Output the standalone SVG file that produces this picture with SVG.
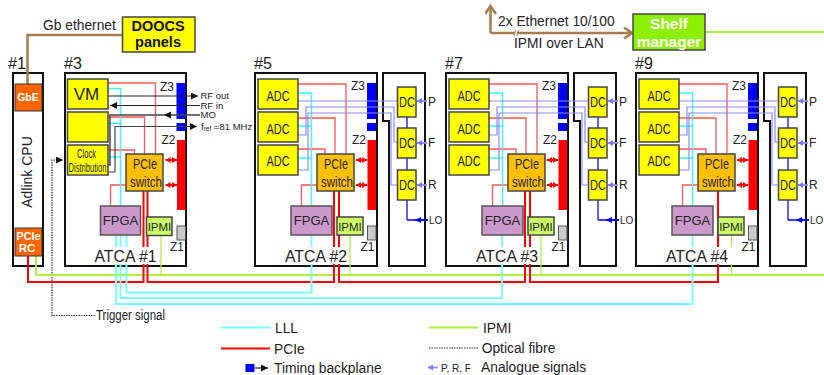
<svg xmlns="http://www.w3.org/2000/svg" xmlns:xlink="http://www.w3.org/1999/xlink" width="824" height="375" viewBox="0 0 824 375">
<style>
text{font-family:"Liberation Sans",Arial,sans-serif;fill:#222}
.m{text-anchor:middle}
.frame{fill:#fff;stroke:#111;stroke-width:2}
.y{fill:#ff0;stroke:#444;stroke-width:1.5}
.sw{fill:#ffc000;stroke:#444;stroke-width:1.5}
.fp{fill:#cc99cc;stroke:#555;stroke-width:1.5}
.ip{fill:#ccff66;stroke:#444;stroke-width:1.5}
.or{fill:#ff6600;stroke:#333;stroke-width:1}
.z1{fill:#ccc;stroke:#555;stroke-width:1}
.l{fill:none}
.red{stroke:#f00;stroke-width:2}
.r1{stroke:#f55;stroke-width:1.3}
.cy{stroke:#7ff;stroke-width:2}
.c1{stroke:#3ff;stroke-width:1.3}
.gr{stroke:#aef03c;stroke-width:2}
.g1{stroke:#aef03c;stroke-width:1.3}
.la{stroke:#8a8aff;stroke-width:1.2}
.br{stroke:#a87c4f;stroke-width:2.5}
.bk{stroke:#222;stroke-width:1.2}
.tg{stroke:#333;stroke-width:1.2;stroke-dasharray:1.5 1}
.lb{stroke:#2a2aee;stroke-width:1.5}
.wh{fill:#fff}
.t{font-size:13.8px}
.z{font-size:12px}
.adc{font-size:15.5px}
.pc{font-size:15px}
.dc{font-size:15px}
.fg{font-size:13px}
.ipm{font-size:11.5px}
.at{font-size:15.8px}
.h{font-size:16px}
.prf{font-size:12px}
.lo{font-size:10px}
.rf{font-size:9.5px}
</style>
<defs>
<marker id="aBk" markerUnits="userSpaceOnUse" markerWidth="8" markerHeight="7" refX="7" refY="3.5" orient="auto"><path d="M0 0L7 3.500L0 7z" fill="#111"/></marker>
<marker id="aBr" markerUnits="userSpaceOnUse" markerWidth="11" markerHeight="13" refX="9" refY="6" orient="auto"><path d="M1 0.500L9 6L1 11.500" fill="none" stroke="#a87c4f" stroke-width="2.500"/></marker>
<marker id="aRe" markerUnits="userSpaceOnUse" markerWidth="6" markerHeight="7" refX="5" refY="3" orient="auto-start-reverse"><path d="M0 0L5 3L0 6z" fill="#f00"/></marker>
<marker id="aLa" markerUnits="userSpaceOnUse" markerWidth="6" markerHeight="6" refX="5" refY="3" orient="auto"><path d="M0 0L5 3L0 6z" fill="#7777ff"/></marker>
<marker id="aBl" markerUnits="userSpaceOnUse" markerWidth="7" markerHeight="6" refX="6" refY="3" orient="auto"><path d="M0 0L6 3L0 6z" fill="#00f"/></marker>
<g id="adcWires">
<path class="l r1" d="M298 84H346V154M298 118H335V154M298 149H325V154M317 185H301.500V206"/>
<path class="l c1" d="M298 93H311.500V206M298 126H311.500M298 158H311.500"/>
<path class="l la" d="M298 101H397M298 135H306V107H394V142H397M298 170H308V113H391V185H397"/>
<path class="l lb" d="M407 117V220"/>
<path class="l" stroke="#00f" stroke-width="1.500" d="M428 220H407"/>
<path class="l" stroke="#00f" stroke-width="1.500" d="M428 220H415" marker-end="url(#aBl)"/>
<path class="l" stroke="#8a8aff" stroke-width="1.800" marker-end="url(#aLa)" d="M427 101H417"/>
<path class="l" stroke="#8a8aff" stroke-width="1.800" marker-end="url(#aLa)" d="M427 143H417"/>
<path class="l" stroke="#8a8aff" stroke-width="1.800" marker-end="url(#aLa)" d="M427 185H417"/>
<path class="l red" marker-start="url(#aRe)" marker-end="url(#aRe)" d="M356 160H367"/>
<path class="l red" marker-start="url(#aRe)" marker-end="url(#aRe)" d="M356 185H367"/>
</g>
</defs>
<rect width="824" height="375" fill="#fff"/>

<g id="frames">
<rect id="cpu-frame" class="frame" x="13" y="73" width="30" height="193"/>
<rect id="card3-frame" class="frame" x="65" y="73" width="121" height="193"/>
<rect id="card5-frame" class="frame" x="255" y="73" width="122" height="193"/>
<rect id="card7-frame" class="frame" x="446" y="73" width="122" height="193"/>
<rect id="card9-frame" class="frame" x="636" y="73" width="122" height="193"/>
<path id="rtm5-frame" class="frame" d="M383 73H425V266H389V121H383Z"/>
<path id="rtm7-frame" class="frame" d="M574 73H616V266H580V121H574Z"/>
<path id="rtm9-frame" class="frame" d="M764 73H806V266H770V121H764Z"/>
</g>

<g id="backplane-zones">
<g id="zones3" transform="translate(-190.500 0)"><rect x="367" y="83" width="9" height="36" fill="#00f"/><rect x="367" y="123" width="9" height="8" fill="#00f"/><rect x="367.500" y="140" width="8.500" height="70" fill="#f00"/><rect class="z1" x="367.500" y="226" width="8.500" height="14"/></g>
<g id="zones5"><rect x="367" y="83" width="9" height="36" fill="#00f"/><rect x="367" y="123" width="9" height="8" fill="#00f"/><rect x="367.500" y="140" width="8.500" height="70" fill="#f00"/><rect class="z1" x="367.500" y="226" width="8.500" height="14"/></g>
<g id="zones7" transform="translate(191 0)"><rect x="367" y="83" width="9" height="36" fill="#00f"/><rect x="367" y="123" width="9" height="8" fill="#00f"/><rect x="367.500" y="140" width="8.500" height="70" fill="#f00"/><rect class="z1" x="367.500" y="226" width="8.500" height="14"/></g>
<g id="zones9" transform="translate(381 0)"><rect x="367" y="83" width="9" height="36" fill="#00f"/><rect x="367" y="123" width="9" height="8" fill="#00f"/><rect x="367.500" y="140" width="8.500" height="70" fill="#f00"/><rect class="z1" x="367.500" y="226" width="8.500" height="14"/></g>
</g>

<g id="connectors">
<path class="l br" d="M27.500 85V35H123"/>
<path class="l br" d="M490.500 33V6" marker-end="url(#aBr)"/>
<path class="l br" d="M490.500 33H632" marker-end="url(#aBr)"/>
<path class="l" stroke="#fff" stroke-width="3" d="M515 33H517"/>
<path class="l" stroke="#a87c4f" stroke-width="1" d="M514 36L515.500 30M517 36L518.500 30"/>
<path class="l" stroke="#b4f050" stroke-width="2" d="M705 32H824"/>
<path class="l tg" d="M95 315.500H52V160H63" marker-end="url(#aBk)"/>
<path class="l r1" d="M108 83H155.500V154M108 117H144.500V154M108 150H134.500V154M126 185H110.500V206"/>
<path class="l c1" d="M108 88.500H120.500V206M108 123.500H120.500M108 157H120.500"/>
<path class="l bk" d="M108 96H198" marker-end="url(#aBk)"/>
<path class="l bk" d="M200 105.500H110" marker-end="url(#aBk)"/>
<path class="l" stroke="#444" stroke-width="1.500" d="M200 115H110V165H108"/>
<path d="M171 111.500L164 115L171 118.500z" fill="#111"/>
<path class="l" stroke="#444" stroke-width="1.200" d="M108 172H115V126.500H197" marker-end="url(#aBk)"/>
<path class="l red" marker-start="url(#aRe)" marker-end="url(#aRe)" d="M165.500 160H177"/>
<path class="l red" marker-start="url(#aRe)" marker-end="url(#aRe)" d="M165.500 185H177"/>
<use xlink:href="#adcWires" href="#adcWires"/>
<use xlink:href="#adcWires" href="#adcWires" x="191"/>
<use xlink:href="#adcWires" href="#adcWires" x="381"/>
<path class="l gr" d="M36 256V275H824"/>
<path class="l g1" d="M161 235V275M350 235V275M541 235V275M731.500 235V275"/>
<path class="l red" d="M28 256V282H143.500V191M147.500 191V282H334V191M339 191V282H525V191M530 191V282H718V191"/>
<path class="l cy" d="M126.500 235V292.500H311.500V235M120.500 235V298H502V235M116 235V304H692.500V235"/>
<rect class="wh" x="93" y="247" width="65" height="17"/>
<rect class="wh" x="284" y="247" width="64" height="17"/>
<rect class="wh" x="475" y="247" width="64" height="17"/>
<rect class="wh" x="665" y="247" width="69" height="17"/>
</g>

<g id="cpu-gbe"><rect class="or" x="15" y="84" width="27" height="27"/><text class="m" x="28" y="101" font-size="10.500" font-weight="bold" style="fill:#fff">GbE</text></g>
<g id="cpu-rc"><rect class="or" x="15" y="228" width="27" height="28"/><text x="16.500" y="240" font-size="11.500" style="fill:#fff" font-weight="bold" textLength="24" lengthAdjust="spacingAndGlyphs">PCIe</text><text class="m" x="27" y="252" font-size="11.500" style="fill:#fff" font-weight="bold">RC</text></g>
<g id="cpu-label"><text class="m" x="32" y="172" font-size="14" transform="rotate(-90 32 172)">Adlink CPU</text><text class="h" x="8" y="69">#1</text></g>

<g id="doocs"><rect class="y" x="122.500" y="17" width="72.500" height="35"/><text class="m" x="158" y="31" font-size="14.500" font-weight="bold" style="fill:#111">DOOCS</text><text class="m" x="158" y="47" font-size="14.500" font-weight="bold" style="fill:#111">panels</text></g>
<g id="shelf"><rect x="633" y="14" width="72" height="36" fill="#8fef00" stroke="#444" stroke-width="1.500"/><text class="m" x="669" y="29" font-size="15.500" font-weight="bold" style="fill:#fff">Shelf</text><text class="m" x="669" y="47" font-size="15.500" font-weight="bold" style="fill:#fff">manager</text></g>

<g id="card3">
<text class="h" x="64" y="69">#3</text>
<g id="vm"><rect class="y" x="67.500" y="79" width="40.500" height="30"/><text class="m" x="86.500" y="100" font-size="17">VM</text></g>
<g id="blank"><rect class="y" x="67.500" y="112" width="40.500" height="30"/></g>
<g id="clock"><rect class="y" x="67.500" y="145" width="40.500" height="30"/><text x="77" y="158" font-size="12.500" textLength="19" lengthAdjust="spacingAndGlyphs">Clock</text><text x="68.500" y="171.500" font-size="12" textLength="38" lengthAdjust="spacingAndGlyphs">Distribution</text></g>
<g id="sw1"><rect class="sw" x="126" y="154" width="37" height="37"/><text class="pc" x="133" y="168.500" textLength="24" lengthAdjust="spacingAndGlyphs">PCIe</text><text class="pc" x="130" y="186.500" textLength="32" lengthAdjust="spacingAndGlyphs">switch</text></g>
<g id="fpga1"><rect class="fp" x="100.500" y="206" width="40" height="29"/><text class="m fg" x="120.500" y="225">FPGA</text></g>
<g id="ipmi1"><rect class="ip" x="146.500" y="217" width="25.500" height="18.500"/><text class="m ipm" x="159.500" y="230.500">IPMI</text></g>
<text class="z" x="160" y="91">Z3</text><text class="z" x="161.500" y="144">Z2</text><text class="z" x="170" y="251">Z1</text>
<text class="rf" x="200.500" y="99">RF out</text><text class="rf" x="200.500" y="108.500">RF in</text><text class="rf" x="200.500" y="118">MO</text>
<text class="rf" x="201" y="129.500">f<tspan font-size="6.500" dy="1.500">ref</tspan><tspan dy="-1.500"> =81 MHz</tspan></text>
<text class="at" x="94.500" y="262" textLength="62" lengthAdjust="spacingAndGlyphs">ATCA #1</text>
</g>

<g id="card5">
<text class="h" x="254" y="69">#5</text>
<g id="adc5a"><rect class="y" x="258" y="79" width="40" height="30"/><text class="adc" x="266.500" y="100.500" textLength="23" lengthAdjust="spacingAndGlyphs">ADC</text></g>
<g id="adc5b"><rect class="y" x="258" y="112" width="40" height="30"/><text class="adc" x="266.500" y="134" textLength="23" lengthAdjust="spacingAndGlyphs">ADC</text></g>
<g id="adc5c"><rect class="y" x="258" y="145" width="40" height="30"/><text class="adc" x="266.500" y="165.500" textLength="23" lengthAdjust="spacingAndGlyphs">ADC</text></g>
<g id="sw5"><rect class="sw" x="317" y="154" width="37" height="37"/><text class="pc" x="324" y="168.500" textLength="24" lengthAdjust="spacingAndGlyphs">PCIe</text><text class="pc" x="321" y="186.500" textLength="32" lengthAdjust="spacingAndGlyphs">switch</text></g>
<g id="fpga5"><rect class="fp" x="291" y="206" width="41" height="29"/><text class="m fg" x="311.500" y="225">FPGA</text></g>
<g id="ipmi5"><rect class="ip" x="337" y="217" width="26" height="18"/><text class="m ipm" x="350" y="230.500">IPMI</text></g>
<text class="z" x="351" y="89.500">Z3</text><text class="z" x="352" y="143.500">Z2</text><text class="z" x="360.500" y="251">Z1</text>
<text class="at" x="285" y="262" textLength="62" lengthAdjust="spacingAndGlyphs">ATCA #2</text>
</g>
<g id="rtm5">
<g id="dc5a"><rect class="y" x="397.500" y="87" width="18.500" height="30"/><text class="dc" x="399" y="107" textLength="16" lengthAdjust="spacingAndGlyphs">DC</text></g>
<g id="dc5b"><rect class="y" x="397.500" y="128" width="18.500" height="30"/><text class="dc" x="399" y="148" textLength="16" lengthAdjust="spacingAndGlyphs">DC</text></g>
<g id="dc5c"><rect class="y" x="397.500" y="170" width="18.500" height="30"/><text class="dc" x="399" y="190" textLength="16" lengthAdjust="spacingAndGlyphs">DC</text></g>
<text class="prf" x="428" y="105.500">P</text><text class="prf" x="428" y="147">F</text><text class="prf" x="428" y="189">R</text><text class="lo" x="429" y="224">LO</text>
</g>

<g id="card7" transform="translate(191 0)">
<text class="h" x="254" y="69">#7</text>
<g id="adc7a"><rect class="y" x="258" y="79" width="40" height="30"/><text class="adc" x="266.500" y="100.500" textLength="23" lengthAdjust="spacingAndGlyphs">ADC</text></g>
<g id="adc7b"><rect class="y" x="258" y="112" width="40" height="30"/><text class="adc" x="266.500" y="134" textLength="23" lengthAdjust="spacingAndGlyphs">ADC</text></g>
<g id="adc7c"><rect class="y" x="258" y="145" width="40" height="30"/><text class="adc" x="266.500" y="165.500" textLength="23" lengthAdjust="spacingAndGlyphs">ADC</text></g>
<g id="sw7"><rect class="sw" x="317" y="154" width="37" height="37"/><text class="pc" x="324" y="168.500" textLength="24" lengthAdjust="spacingAndGlyphs">PCIe</text><text class="pc" x="321" y="186.500" textLength="32" lengthAdjust="spacingAndGlyphs">switch</text></g>
<g id="fpga7"><rect class="fp" x="291" y="206" width="41" height="29"/><text class="m fg" x="311.500" y="225">FPGA</text></g>
<g id="ipmi7"><rect class="ip" x="337" y="217" width="26" height="18"/><text class="m ipm" x="350" y="230.500">IPMI</text></g>
<text class="z" x="351" y="89.500">Z3</text><text class="z" x="352" y="143.500">Z2</text><text class="z" x="360.500" y="251">Z1</text>
<text class="at" x="285" y="262" textLength="62" lengthAdjust="spacingAndGlyphs">ATCA #3</text>
</g>
<g id="rtm7" transform="translate(191 0)">
<g id="dc7a"><rect class="y" x="397.500" y="87" width="18.500" height="30"/><text class="dc" x="399" y="107" textLength="16" lengthAdjust="spacingAndGlyphs">DC</text></g>
<g id="dc7b"><rect class="y" x="397.500" y="128" width="18.500" height="30"/><text class="dc" x="399" y="148" textLength="16" lengthAdjust="spacingAndGlyphs">DC</text></g>
<g id="dc7c"><rect class="y" x="397.500" y="170" width="18.500" height="30"/><text class="dc" x="399" y="190" textLength="16" lengthAdjust="spacingAndGlyphs">DC</text></g>
<text class="prf" x="428" y="105.500">P</text><text class="prf" x="428" y="147">F</text><text class="prf" x="428" y="189">R</text><text class="lo" x="429" y="224">LO</text>
</g>

<g id="card9" transform="translate(381 0)">
<text class="h" x="254" y="69">#9</text>
<g id="adc9a"><rect class="y" x="258" y="79" width="40" height="30"/><text class="adc" x="266.500" y="100.500" textLength="23" lengthAdjust="spacingAndGlyphs">ADC</text></g>
<g id="adc9b"><rect class="y" x="258" y="112" width="40" height="30"/><text class="adc" x="266.500" y="134" textLength="23" lengthAdjust="spacingAndGlyphs">ADC</text></g>
<g id="adc9c"><rect class="y" x="258" y="145" width="40" height="30"/><text class="adc" x="266.500" y="165.500" textLength="23" lengthAdjust="spacingAndGlyphs">ADC</text></g>
<g id="sw9"><rect class="sw" x="317" y="154" width="37" height="37"/><text class="pc" x="324" y="168.500" textLength="24" lengthAdjust="spacingAndGlyphs">PCIe</text><text class="pc" x="321" y="186.500" textLength="32" lengthAdjust="spacingAndGlyphs">switch</text></g>
<g id="fpga9"><rect class="fp" x="291" y="206" width="41" height="29"/><text class="m fg" x="311.500" y="225">FPGA</text></g>
<g id="ipmi9"><rect class="ip" x="337" y="217" width="26" height="18"/><text class="m ipm" x="350" y="230.500">IPMI</text></g>
<text class="z" x="351" y="89.500">Z3</text><text class="z" x="352" y="143.500">Z2</text><text class="z" x="360.500" y="251">Z1</text>
<text class="at" x="285" y="262" textLength="62" lengthAdjust="spacingAndGlyphs">ATCA #4</text>
</g>
<g id="rtm9" transform="translate(381 0)">
<g id="dc9a"><rect class="y" x="397.500" y="87" width="18.500" height="30"/><text class="dc" x="399" y="107" textLength="16" lengthAdjust="spacingAndGlyphs">DC</text></g>
<g id="dc9b"><rect class="y" x="397.500" y="128" width="18.500" height="30"/><text class="dc" x="399" y="148" textLength="16" lengthAdjust="spacingAndGlyphs">DC</text></g>
<g id="dc9c"><rect class="y" x="397.500" y="170" width="18.500" height="30"/><text class="dc" x="399" y="190" textLength="16" lengthAdjust="spacingAndGlyphs">DC</text></g>
<text class="prf" x="428" y="105.500">P</text><text class="prf" x="428" y="147">F</text><text class="prf" x="428" y="189">R</text><text class="lo" x="429" y="224">LO</text>
</g>

<g id="annotations">
<text class="t" x="43" y="30">Gb ethernet</text>
<text class="t" x="498" y="26">2x Ethernet 10/100</text>
<text class="t" x="514" y="48">IPMI over LAN</text>
<text x="96" y="320" font-size="14" textLength="69" lengthAdjust="spacingAndGlyphs">Trigger signal</text>
</g>

<g id="legend">
<path class="l cy" d="M221 327.500H270"/><text class="t" x="275" y="333">LLL</text>
<path class="l red" d="M221 348.500H270"/><text class="t" x="274" y="354">PCIe</text>
<rect x="245.500" y="364" width="9" height="8" fill="#00f"/><path class="l bk" d="M255 368H268" marker-end="url(#aBk)"/><text class="t" x="274" y="373">Timing backplane</text>
<path class="l gr" d="M429 327.500H478"/><text class="t" x="483" y="333">IPMI</text>
<path class="l tg" d="M429 348H478"/><text class="t" x="481.700" y="353">Optical fibre</text>
<path class="l" stroke="#8a8aff" stroke-width="1.800" marker-end="url(#aLa)" d="M438 367.500H428"/><text x="441" y="372" font-size="10">P, R, F</text><text class="t" x="481" y="372">Analogue signals</text>
</g>
</svg>
